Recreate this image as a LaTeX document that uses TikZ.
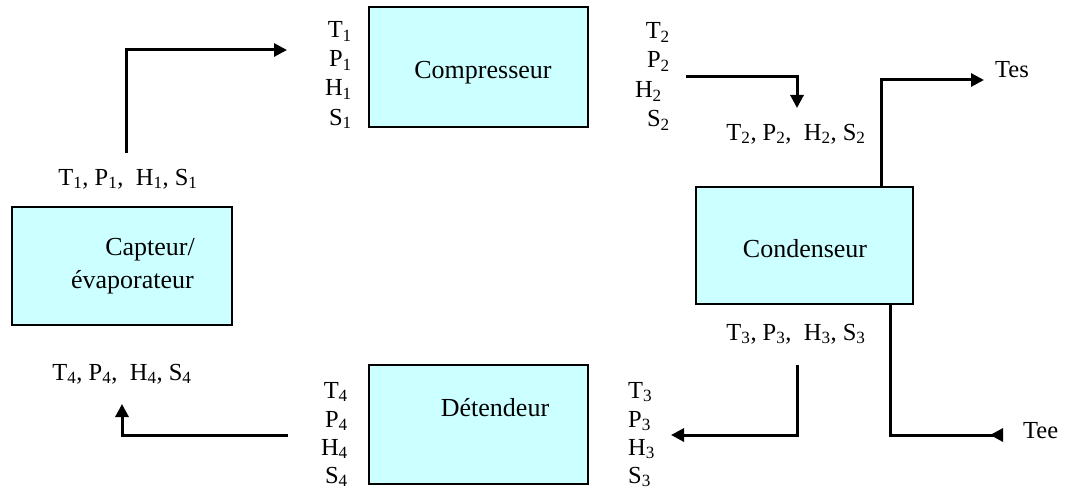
\documentclass[tikz,border=0pt]{standalone}
\usepackage{fontspec}
\setmainfont{Liberation Serif}
\usetikzlibrary{arrows.meta}
\definecolor{boxcyan}{RGB}{204,255,255}
\newcommand{\su}[1]{\textsubscript{#1}}
\begin{document}
\begin{tikzpicture}[x=1pt,y=-1pt,
  box/.style={draw, line width=1.5pt, fill=boxcyan, inner sep=0},
  lbl/.style={inner sep=0, font=\fontsize{24.5}{29}\selectfont},
  btxt/.style={inner sep=0, font=\fontsize{26}{31}\selectfont},
  flow/.style={line width=3pt, -{Triangle[length=13pt,width=13pt]}},
  rflow/.style={line width=3pt, -{Triangle[reversed,length=13pt,width=13pt]}}]
\useasboundingbox (0,0) rectangle (1067,492);
% boxes
\node[box, minimum width=219pt, minimum height=120pt] (comp) at (478.5,67) {};
\node[box, minimum width=220pt, minimum height=118pt] (capt) at (122,266) {};
\node[box, minimum width=217pt, minimum height=117pt] (cond) at (804.5,245.5) {};
\node[box, minimum width=219pt, minimum height=119pt] (det) at (478.5,424.5) {};
% box texts
\node[btxt, anchor=base] (comptxt) at (483,79) {Compresseur};
\node[btxt, anchor=base east] (capt1) at (195,255) {Capteur/};
\node[btxt, anchor=base east] (capt2) at (194,288) {évaporateur};
\node[btxt, anchor=base] (condtxt) at (805,257) {Condenseur};
\node[btxt, anchor=base] (dettxt) at (495,416) {Détendeur};
% compressor inlet labels
\node[lbl, anchor=base east] (t1) at (352,38) {T\su{1}};
\node[lbl, anchor=base east] (p1) at (352,67) {P\su{1}};
\node[lbl, anchor=base east] (h1) at (352,96) {H\su{1}};
\node[lbl, anchor=base east] (s1) at (352,125) {S\su{1}};
% compressor outlet labels
\node[lbl, anchor=base east] (t2) at (670,39) {T\su{2}};
\node[lbl, anchor=base east] (p2) at (670,68) {P\su{2}};
\node[lbl, anchor=base east] (h2) at (662,98) {H\su{2}};
\node[lbl, anchor=base east] (s2) at (670,127) {S\su{2}};
% detendeur labels
\node[lbl, anchor=base east] (t4) at (348,398) {T\su{4}};
\node[lbl, anchor=base east] (p4) at (348,427) {P\su{4}};
\node[lbl, anchor=base east] (h4) at (348,455) {H\su{4}};
\node[lbl, anchor=base east] (s4) at (348,483) {S\su{4}};
\node[lbl, anchor=base west] (t3) at (628,398) {T\su{3}};
\node[lbl, anchor=base west] (p3) at (628,427) {P\su{3}};
\node[lbl, anchor=base west] (h3) at (628,455) {H\su{3}};
\node[lbl, anchor=base west] (s3) at (628,483) {S\su{3}};
% state labels
\node[lbl, anchor=base] (st1) at (128,185) {T\su{1}, P\su{1},\ \ H\su{1}, S\su{1}};
\node[lbl, anchor=base] (st2) at (796,140) {T\su{2}, P\su{2},\ \ H\su{2}, S\su{2}};
\node[lbl, anchor=base] (st3) at (796,340) {T\su{3}, P\su{3},\ \ H\su{3}, S\su{3}};
\node[lbl, anchor=base] (st4) at (122,380) {T\su{4}, P\su{4},\ \ H\su{4}, S\su{4}};
\node[lbl, anchor=base west] (tes) at (995,78) {Tes};
\node[lbl, anchor=base west] (tee) at (1023,438) {Tee};
% connector end points
\coordinate (a1s) at (126,153);
\coordinate (a1e) at (287,50);
\coordinate (a2s) at (686,77);
\coordinate (a2e) at (797,108);
\coordinate (a3s) at (797,365);
\coordinate (a3e) at (671,435);
\coordinate (a4s) at (288,435);
\coordinate (a4e) at (122,404);
\coordinate (tesS) at (881,187);
\coordinate (tesE) at (984,80);
\coordinate (teeS) at (890,304);
\coordinate (teeE) at (1003,435);
% connectors
\draw[flow] (a1s) |- (a1e);
\draw[flow] (a2s) -| (a2e);
\draw[flow] (a3s) |- (a3e);
\draw[flow] (a4s) -| (a4e);
\draw[flow] (tesS) |- (tesE);
\draw[rflow] (teeS) |- (teeE);
\end{tikzpicture}
\end{document}
